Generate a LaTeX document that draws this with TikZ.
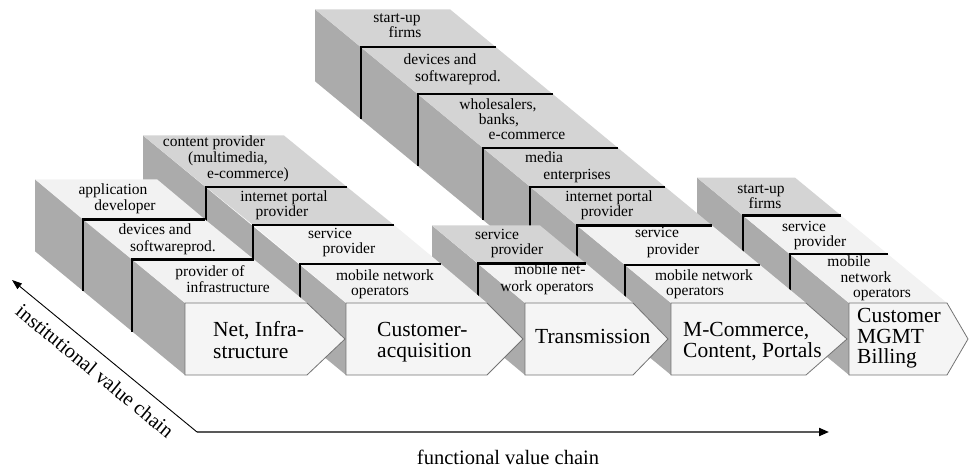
\documentclass[tikz,border=0pt]{standalone}
\usepackage{fontspec}
\setmainfont{Liberation Serif}
\usetikzlibrary{arrows.meta}
\newcommand\mysec[6]{\fill[#1] (#2,#3) -- ({#2+#6},#3) -- ({#4+#6},#5) -- (#4,#5) -- cycle;}
\newcommand\myseam[3]{\draw[seamline] ({#1+#3},#2) -- (#1,#2) -- (#1,{#2+72});}
\newcommand\myside[3]{\fill[sidefill] (#1,303) -- (#1,375) -- (#2,{#3+72}) -- (#2,#3) -- cycle;}
\newcommand\myfront[3]{\draw[frontfill] (#1,303) -- (#2,303) -- (#3,339) -- (#2,375) -- (#1,375) -- cycle;}
\begin{document}
\begin{tikzpicture}[x=1pt,y=-1pt,
  sidefill/.style={fill=black!33},
  toplight/.style={fill=black!5},
  topgray/.style={fill=black!17},
  frontfill/.style={fill=black!4,draw=black!55,line width=0.8pt},
  seamline/.style={draw=black,line width=2.2pt,line join=miter},
  lbl/.style={font=\fontsize{15.5}{15.5}\selectfont,inner sep=0pt,anchor=base},
  biglbl/.style={font=\fontsize{21.5}{21.5}\selectfont,inner sep=0pt,anchor=base west},
  axislbl/.style={font=\fontsize{20.5}{20.5}\selectfont,inner sep=0pt},
]
\useasboundingbox (0,0) rectangle (969,470);

% ---------- column 5 : Customer MGMT Billing ----------
\myside{849}{697}{177.6}
\mysec{toplight}{849}{303}{790}{254.3}{98}
\mysec{toplight}{790}{254.3}{743}{215.5}{98}
\mysec{topgray}{743}{215.5}{697}{177.6}{98}
\myseam{790}{254.3}{98}
\myseam{743}{215.5}{98}
\myfront{849}{947}{968}
\node[lbl] (c5a1) at (761,194) {start-up};
\node[lbl] (c5a2) at (765,209) {firms};
\node[lbl] (c5b1) at (804,232) {service};
\node[lbl] (c5b2) at (820,247) {provider};
\node[lbl] (c5c1) at (849,267) {mobile};
\node[lbl] (c5c2) at (866,283) {network};
\node[lbl] (c5c3) at (882,298) {operators};
\node[biglbl] (c5f1) at (857,323) {Customer};
\node[biglbl] (c5f2) at (857,343) {MGMT};
\node[biglbl] (c5f3) at (857,363) {Billing};

% ---------- column 4 : M-Commerce ----------
\myside{671}{315}{9.3}
\mysec{toplight}{671}{303}{625}{265}{135}
\mysec{toplight}{625}{265}{577}{225.5}{135}
\mysec{topgray}{577}{225.5}{530}{186.7}{135}
\mysec{topgray}{530}{186.7}{483}{147.9}{135}
\mysec{topgray}{483}{147.9}{418}{94.3}{135}
\mysec{topgray}{418}{94.3}{361}{47.3}{135}
\mysec{topgray}{361}{47.3}{315}{9.3}{135}
\myseam{625}{265}{135}
\myseam{577}{225.5}{135}
\myseam{530}{186.7}{135}
\myseam{483}{147.9}{135}
\myseam{418}{94.3}{135}
\myseam{361}{47.3}{135}
\myfront{671}{806}{847}
\node[lbl] (c4a1) at (397,23) {start-up};
\node[lbl] (c4a2) at (405,38) {firms};
\node[lbl] (c4b1) at (440,65) {devices and};
\node[lbl] (c4b2) at (458,82) {softwareprod.};
\node[lbl] (c4c1) at (498,110) {wholesalers,};
\node[lbl] (c4c2) at (499,125) {banks,};
\node[lbl] (c4c3) at (527,140) {e-commerce};
\node[lbl] (c4d1) at (544,163) {media};
\node[lbl] (c4d2) at (577,180) {enterprises};
\node[lbl] (c4e1) at (609,202) {internet portal};
\node[lbl] (c4e2) at (607,217) {provider};
\node[lbl] (c4f1) at (657,238) {service};
\node[lbl] (c4f2) at (673,255) {provider};
\node[lbl] (c4g1) at (704,280) {mobile network};
\node[lbl] (c4g2) at (695,295) {operators};
\node[biglbl] (c4h1) at (683,337) {M-Commerce,};
\node[biglbl] (c4h2) at (683,357) {Content, Portals};

% ---------- column 3 : Transmission ----------
\myside{525}{432}{225.5}
\mysec{toplight}{525}{303}{478}{263.5}{108}
\mysec{topgray}{478}{263.5}{432}{225.5}{108}
\myseam{478}{263.5}{108}
\myfront{525}{633}{668}
\node[lbl] (c3a1) at (497,240) {service};
\node[lbl] (c3a2) at (517,255) {provider};
\node[lbl] (c3b1) at (550,275) {mobile net-};
\node[lbl] (c3b2) at (547,292) {work operators};
\node[biglbl] (c3f1) at (535,343) {Transmission};

% ---------- column 2 : Customer-acquisition ----------
\myside{346}{143}{135.5}
\mysec{toplight}{346}{303}{300}{264}{141}
\mysec{toplight}{300}{264}{253}{225}{141}
\mysec{topgray}{253}{225}{206}{187}{141}
\mysec{topgray}{206}{187}{143}{135.5}{141}
\myseam{300}{264}{141}
\myseam{253}{225}{141}
\myseam{206}{187}{141}
\myfront{346}{487}{523}
\node[lbl] (c2a1) at (214,147) {content provider};
\node[lbl] (c2a2) at (228,163) {(multimedia,};
\node[lbl] (c2a3) at (248,179) {e-commerce)};
\node[lbl] (c2b1) at (284,202) {internet portal};
\node[lbl] (c2b2) at (282,217) {provider};
\node[lbl] (c2c1) at (330,239) {service};
\node[lbl] (c2c2) at (349,254) {provider};
\node[lbl] (c2d1) at (385,280) {mobile network};
\node[lbl] (c2d2) at (380,295) {operators};
\node[biglbl] (c2f1) at (377,337) {Customer-};
\node[biglbl] (c2f2) at (377,357) {acquisition};

% ---------- column 1 : Net, Infrastructure ----------
\myside{185}{35}{179.3}
\mysec{toplight}{185}{303}{132}{259.5}{122}
\mysec{toplight}{132}{259.5}{83}{219.5}{122}
\mysec{toplight}{83}{219.5}{35}{179.3}{122}
\myseam{132}{259.5}{122}
\myseam{83}{219.5}{122}
\myfront{185}{307}{345}
\node[lbl] (c1a1) at (113,195) {application};
\node[lbl] (c1a2) at (125,211) {developer};
\node[lbl] (c1b1) at (155,235) {devices and};
\node[lbl] (c1b2) at (173,252) {softwareprod.};
\node[lbl] (c1c1) at (210,277) {provider of};
\node[lbl] (c1c2) at (228,293) {infrastructure};
\node[biglbl] (c1f1) at (213,337) {Net, Infra-};
\node[biglbl] (c1f2) at (213,358) {structure};

% ---------- axes ----------
\coordinate (O) at (197,432);
\coordinate (Iend) at (12,280);
\coordinate (Fend) at (829,432);
\draw[black!65,line width=2pt,-{Triangle[length=10pt,width=8pt,color=black]}] (O) -- (Fend);
\draw[black,line width=0.9pt,-{Triangle[length=10pt,width=7pt]}] (O) -- (Iend);
\node[axislbl,anchor=base] (fvc) at (508,464) {functional value chain};
\node[axislbl,rotate=-39.4] (ivc) at (95,371) {institutional value chain};
\end{tikzpicture}
\end{document}
